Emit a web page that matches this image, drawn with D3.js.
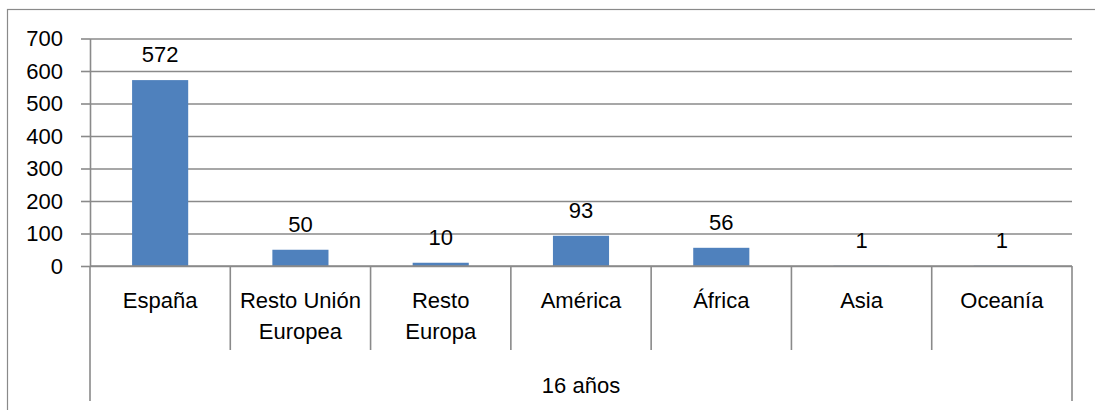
<!DOCTYPE html>
<html>
<head>
<meta charset="utf-8">
<script src="https://cdn.jsdelivr.net/npm/d3@7"></script>
<style>
  html, body { margin: 0; padding: 0; background: #fff; }
  svg { display: block; }
  text { font-family: "Liberation Sans", Arial, sans-serif; font-size: 22px; fill: #000; }
</style>
</head>
<body>
<svg id="chart" width="1095" height="410"></svg>
<script>
// Alumnos de 16 años por procedencia
const categories = ["España", "Resto Unión\nEuropea", "Resto\nEuropa", "América", "África", "Asia", "Oceanía"];
const values = [572, 50, 10, 93, 56, 1, 1];
const yTicks = [0, 100, 200, 300, 400, 500, 600, 700];
const groupLabel = "16 años";

const svg = d3.select("#chart");
const W = 1095, H = 410;

const plotLeft = 90, plotRight = 1072, plotTop = 38.5, plotBottom = 266;
const lineColor = "#8a8a8a";
const barColor = "#4f81bd";

// Outer chart frame
svg.append("rect")
  .attr("x", 7.5).attr("y", 9.5)
  .attr("width", W + 10).attr("height", H + 10)
  .attr("fill", "none").attr("stroke", lineColor).attr("stroke-width", 1.2);

const y = d3.scaleLinear().domain([0, 700]).range([plotBottom, plotTop]);
const xCat = d3.scaleBand().domain(categories).range([plotLeft, plotRight]).padding(0);
const xBar = d3.scaleBand().domain(categories).range([plotLeft, plotRight])
  .paddingInner(0.6).paddingOuter(0.3);

// Gridlines
const grid = svg.append("g")
  .attr("transform", `translate(${plotLeft},0)`)
  .call(d3.axisLeft(y).tickValues(yTicks).tickSize(-(plotRight - plotLeft)).tickFormat(""));
grid.select(".domain").remove();
grid.selectAll(".tick line").attr("stroke", lineColor).attr("stroke-width", 1.6);

// Y axis with outward ticks and labels
const yAxis = svg.append("g")
  .attr("transform", `translate(${plotLeft},0)`)
  .call(d3.axisLeft(y).tickValues(yTicks).tickSize(9).tickSizeOuter(0).tickPadding(18).tickFormat(d3.format("d")));
yAxis.select(".domain").attr("stroke", lineColor).attr("stroke-width", 1.6);
yAxis.selectAll(".tick line").attr("stroke", lineColor).attr("stroke-width", 1.6);
yAxis.selectAll(".tick text")
  .attr("font-family", "Liberation Sans, Arial, sans-serif")
  .attr("font-size", 22).attr("fill", "#000").attr("dy", "0.34em");

// Bars
svg.append("g").selectAll("rect")
  .data(values)
  .join("rect")
  .attr("x", (d, i) => xBar(categories[i]))
  .attr("width", xBar.bandwidth())
  .attr("y", d => y(d))
  .attr("height", d => y(0) - y(d))
  .attr("fill", barColor);

// Value labels
svg.append("g").selectAll("text")
  .data(values)
  .join("text")
  .attr("x", (d, i) => xCat(categories[i]) + xCat.bandwidth() / 2)
  .attr("y", d => y(d) - 18)
  .attr("text-anchor", "middle")
  .text(d => d);

// Category axis: baseline and separators
svg.append("line")
  .attr("x1", plotLeft).attr("x2", plotRight).attr("y1", y(0)).attr("y2", y(0))
  .attr("stroke", lineColor).attr("stroke-width", 1.6);

const bounds = categories.map(c => xCat(c)).concat([plotRight]);
svg.append("g").selectAll("line")
  .data(bounds)
  .join("line")
  .attr("x1", d => d).attr("x2", d => d)
  .attr("y1", y(0))
  .attr("y2", (d, i) => (i === 0 || i === bounds.length - 1) ? 401 : 350)
  .attr("stroke", lineColor).attr("stroke-width", 1.6);

// Category labels (explicit line breaks)
const catLabels = svg.append("g").selectAll("text")
  .data(categories)
  .join("text")
  .attr("x", d => xCat(d) + xCat.bandwidth() / 2)
  .attr("y", 308)
  .attr("text-anchor", "middle");
catLabels.each(function (d) {
  const t = d3.select(this);
  d.split("\n").forEach((line, k) => {
    t.append("tspan")
      .attr("x", t.attr("x"))
      .attr("dy", k === 0 ? 0 : 31)
      .text(line);
  });
});

// Group label
svg.append("text")
  .attr("x", (plotLeft + plotRight) / 2)
  .attr("y", 393)
  .attr("text-anchor", "middle")
  .text(groupLabel);
</script>
</body>
</html>
